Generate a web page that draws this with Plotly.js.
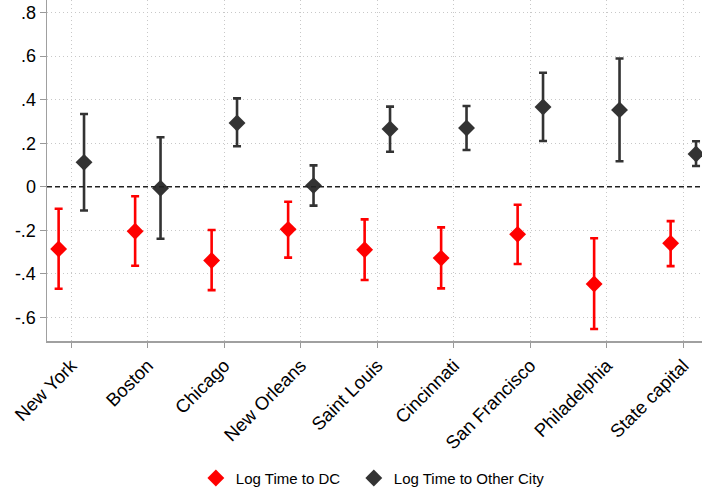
<!DOCTYPE html>
<html>
<head>
<meta charset="utf-8">
<script src="https://cdn.plot.ly/plotly-3.0.1.min.js"></script>
<style>
  html, body { margin: 0; padding: 0; background: #fff; }
  #chart { width: 702px; height: 493px; }
</style>
</head>
<body>
<div id="chart"></div>
<script>
// Cities on the horizontal axis
const cities = ["New York", "Boston", "Chicago", "New Orleans", "Saint Louis",
                "Cincinnati", "San Francisco", "Philadelphia", "State capital"];

// Log travel time to Washington, DC: estimate and 95% interval
const dcEst   = [-0.286, -0.205, -0.339, -0.196, -0.290, -0.328, -0.219, -0.447, -0.260];
const dcLow   = [-0.469, -0.363, -0.475, -0.326, -0.429, -0.467, -0.355, -0.654, -0.365];
const dcHigh  = [-0.101, -0.044, -0.199, -0.069, -0.150, -0.187, -0.083, -0.237, -0.158];

// Log travel time to the other city: estimate and 95% interval
const otherEst  = [0.112, -0.007, 0.293, 0.005, 0.265, 0.270, 0.366, 0.353, 0.150];
const otherLow  = [-0.109, -0.239, 0.186, -0.087, 0.161, 0.169, 0.210, 0.117, 0.095];
const otherHigh = [0.334, 0.227, 0.406, 0.098, 0.368, 0.371, 0.524, 0.589, 0.209];

const yTicks = [-0.6, -0.4, -0.2, 0, 0.2, 0.4, 0.6, 0.8];
const yTickText = ["-.6", "-.4", "-.2", "0", ".2", ".4", ".6", ".8"];

const RED = "#ff0000";
const DARK = "#333333";
const FONT = "Liberation Sans, Arial, Helvetica, sans-serif";
const SHIFT = 0.166;

function seriesTrace(name, est, low, high, color, shift, legendId) {
  return {
    type: "scatter",
    mode: "markers",
    name: name,
    legend: legendId,
    x: cities.map((_, i) => i + 1 + shift),
    y: est,
    marker: { symbol: "diamond", size: 13, color: color, line: { width: 0 } },
    error_y: {
      type: "data",
      symmetric: false,
      array: high.map((h, i) => h - est[i]),
      arrayminus: est.map((e, i) => e - low[i]),
      color: color,
      thickness: 2.6,
      width: 4
    },
    hoverinfo: "x+y"
  };
}

const traces = [
  seriesTrace("Log Time to DC", dcEst, dcLow, dcHigh, RED, -SHIFT, "legend"),
  seriesTrace("Log Time to Other City", otherEst, otherLow, otherHigh, DARK, SHIFT, "legend2")
];

const gridStyle = {
  showgrid: true,
  gridcolor: "#c8c8c8",
  gridwidth: 1,
  griddash: "1px,3px"
};

function legendAt(xLeft) {
  return {
    orientation: "h",
    x: xLeft, xanchor: "left", xref: "container",
    y: 0.03, yanchor: "middle", yref: "container",
    font: { family: FONT, size: 15, color: "#000" },
    bgcolor: "rgba(0,0,0,0)",
    itemwidth: 30
  };
}

const layout = {
  width: 702,
  height: 493,
  margin: { l: 47, r: 0, t: 0, b: 152 },
  paper_bgcolor: "#ffffff",
  plot_bgcolor: "#ffffff",
  font: { family: FONT, color: "#000" },
  showlegend: true,
  legend: legendAt(0.279),
  legend2: legendAt(0.504),
  xaxis: Object.assign({
    range: [0.682, 9.244],
    tickmode: "array",
    tickvals: cities.map((_, i) => i + 1),
    ticktext: cities,
    tickangle: -45,
    tickfont: { family: FONT, size: 18.5, color: "#000" },
    ticks: "outside",
    ticklen: 5,
    tickwidth: 1,
    tickcolor: "#999",
    showline: true,
    linecolor: "#a0a0a0",
    linewidth: 1.5,
    zeroline: false,
    fixedrange: true
  }, gridStyle),
  yaxis: Object.assign({
    range: [-0.709, 0.858],
    tickmode: "array",
    tickvals: yTicks,
    ticktext: yTickText,
    tickfont: { family: FONT, size: 18, color: "#000" },
    ticks: "outside",
    ticklen: 6,
    tickwidth: 1,
    tickcolor: "#999",
    showline: true,
    linecolor: "#a0a0a0",
    linewidth: 1.5,
    zeroline: false,
    fixedrange: true
  }, gridStyle),
  shapes: [{
    type: "line",
    xref: "paper", x0: 0, x1: 1,
    yref: "y", y0: 0, y1: 0,
    line: { color: "#222222", width: 1.6, dash: "5px,3px" },
    layer: "above"
  }]
};

Plotly.newPlot("chart", traces, layout, { displayModeBar: false, staticPlot: true });
</script>
</body>
</html>
